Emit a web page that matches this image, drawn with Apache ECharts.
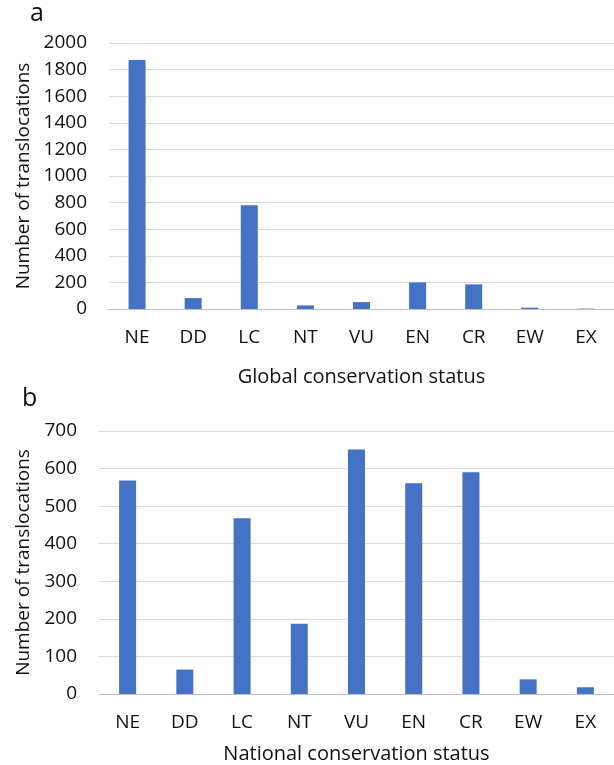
<!DOCTYPE html>
<html>
<head>
<meta charset="utf-8">
<script src="https://cdn.jsdelivr.net/npm/echarts@6/dist/echarts.min.js"></script>
<style>
html,body{margin:0;padding:0;background:#fff;}
#c{width:614px;height:765px;}
</style>
</head>
<body>
<div id="c"></div>
<script>
const categories = ['NE','DD','LC','NT','VU','EN','CR','EW','EX'];
const globalValues = [1872, 82, 780, 27, 52, 200, 185, 10, 3];
const nationalValues = [568, 65, 468, 187, 651, 561, 590, 39, 18];
const globalTicks = {min: 0, max: 2000, interval: 200};
const nationalTicks = {min: 0, max: 700, interval: 100};

const FONT = 'Open Sans';
const TXT = '#111111';
const chart = echarts.init(document.getElementById('c'));

function xAxis(gridIndex, name, gap){
  return {
    type:'category', gridIndex, data: categories,
    name, nameLocation:'middle', nameGap: gap,
    nameTextStyle:{fontFamily:FONT, fontSize:20, color:TXT},
    axisLine:{lineStyle:{color:'#bfbfbf', width:1}},
    axisTick:{show:false},
    axisLabel:{fontFamily:FONT, fontSize:19, color:TXT, margin:19}
  };
}
function yAxis(gridIndex, t, gap){
  return {
    type:'value', gridIndex, min:t.min, max:t.max, interval:t.interval,
    name:'Number of translocations', nameLocation:'middle', nameGap: gap,
    nameTextStyle:{fontFamily:FONT, fontSize:19, color:TXT},
    axisLine:{show:false}, axisTick:{show:false},
    axisLabel:{fontFamily:FONT, fontSize:19, color:TXT, margin:22, formatter: v => String(v)},
    splitLine:{lineStyle:{color:'#d9d9d9', width:1}}
  };
}

chart.setOption({
  animation:false,
  backgroundColor:'#fff',
  grid:[
    {left:109, top:43, width:505, height:266},
    {left:99, top:431, width:515, height:264}
  ],
  xAxis:[xAxis(0,'Global conservation status',58), xAxis(1,'National conservation status',50)],
  yAxis:[yAxis(0,globalTicks,74), yAxis(1,nationalTicks,66)],
  graphic:[
    {type:'text', left:30, top:1, style:{text:'a', fontFamily:FONT, fontSize:25, fill:TXT}},
    {type:'text', left:22, top:386, style:{text:'b', fontFamily:FONT, fontSize:25, fill:TXT}}
  ],
  series:[
    {type:'bar', xAxisIndex:0, yAxisIndex:0, data:globalValues, barWidth:17, itemStyle:{color:'#4472C4'}},
    {type:'bar', xAxisIndex:1, yAxisIndex:1, data:nationalValues, barWidth:17, itemStyle:{color:'#4472C4'}}
  ]
});
</script>
</body>
</html>
